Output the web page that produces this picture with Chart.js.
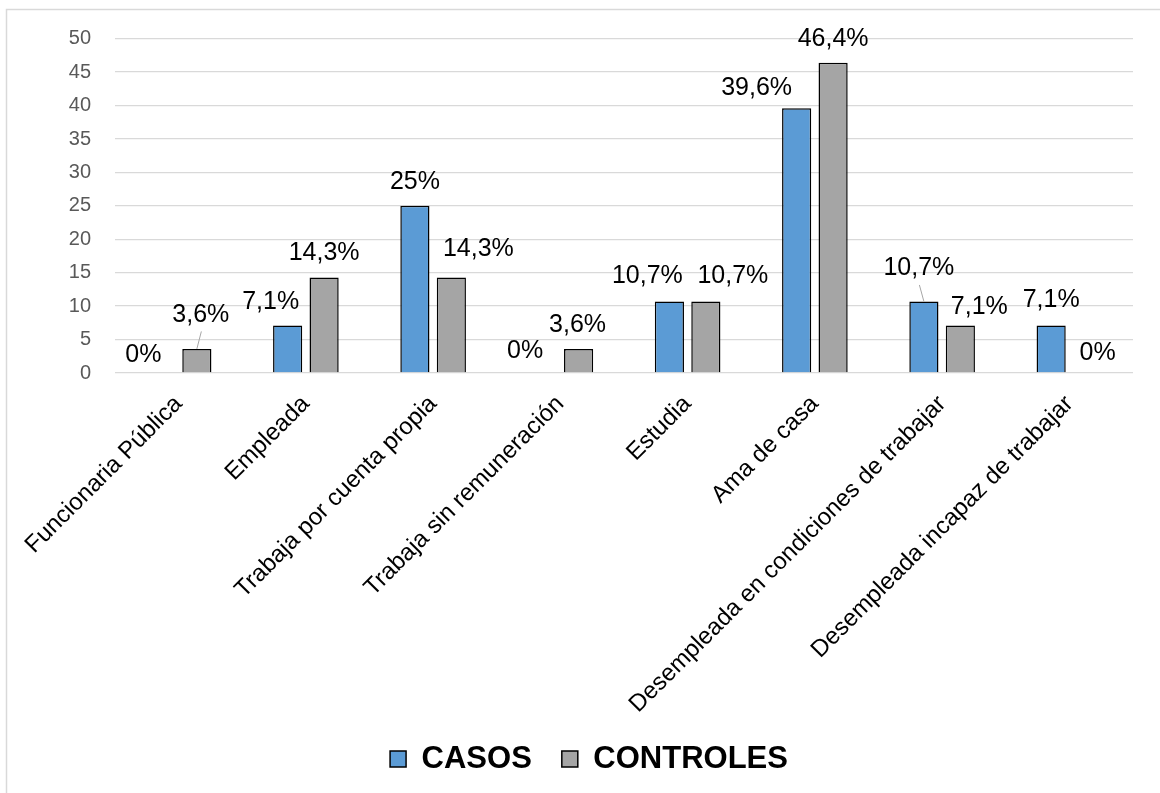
<!DOCTYPE html>
<html lang="es">
<head>
<meta charset="utf-8">
<title>Ocupación - casos y controles</title>
<script src="https://cdn.jsdelivr.net/npm/chart.js@4.4.1/dist/chart.umd.min.js"></script>
<style>
  html, body { margin: 0; padding: 0; background: #fff; }
  #contenedor { position: relative; width: 1160px; height: 793px; }
</style>
</head>
<body>
<div id="contenedor"><canvas id="grafico"></canvas></div>
<script>
// Ocupación (%) por grupo
const categorias = [
  'Funcionaria Pública',
  'Empleada',
  'Trabaja por cuenta propia',
  'Trabaja sin remuneración',
  'Estudia',
  'Ama de casa',
  'Desempleada en condiciones de trabajar',
  'Desempleada incapaz de trabajar'
];
const casos = [0, 7.1, 25, 0, 10.7, 39.6, 10.7, 7.1];
const controles = [3.6, 14.3, 14.3, 3.6, 10.7, 46.4, 7.1, 0];
const ticksY = [0, 5, 10, 15, 20, 25, 30, 35, 40, 45, 50];

// desplazamiento [dx, dy] de cada etiqueta respecto a su sitio por defecto
const ajusteCasos = [[-17, 6], [-17, 0], [0, 0], [-17, 2], [-22, -1], [-40, 4], [-5, -9], [0, -2]];
const ajusteControles = [[4, -10], [0, 0], [27, -4], [-1, 0], [27, -1], [0, 0], [19, 5], [10, 4]];
// etiquetas que llevan línea guía hasta la barra
const conGuia = [[6], [0]];

const FUENTE = '"Liberation Sans", Arial, sans-serif';
Chart.defaults.font.family = FUENTE;

const formato = v => String(v).replace('.', ',') + '%';

// marco gris alrededor del gráfico
const marco = {
  id: 'marco',
  beforeDraw(chart) {
    const ctx = chart.ctx;
    ctx.save();
    ctx.strokeStyle = '#d9d9d9';
    ctx.lineWidth = 1.5;
    ctx.strokeRect(6.5, 9.5, chart.width + 20, chart.height + 20);
    ctx.restore();
  }
};

// etiquetas de valor encima de las barras
const etiquetas = {
  id: 'etiquetas',
  afterDatasetsDraw(chart) {
    const ctx = chart.ctx;
    ctx.save();
    ctx.font = '25px ' + FUENTE;
    ctx.textAlign = 'center';
    ctx.textBaseline = 'alphabetic';
    chart.data.datasets.forEach((ds, i) => {
      const ajustes = i === 0 ? ajusteCasos : ajusteControles;
      chart.getDatasetMeta(i).data.forEach((bar, j) => {
        const [dx, dy] = ajustes[j];
        const x = bar.x + dx;
        const y = bar.y - 17 + dy;
        if (conGuia[i].includes(j)) {
          ctx.strokeStyle = '#a6a6a6';
          ctx.lineWidth = 1;
          ctx.beginPath();
          ctx.moveTo(x + 0.5, y + 9.5);
          ctx.lineTo(bar.x, bar.y);
          ctx.stroke();
        }
        ctx.fillStyle = '#000';
        ctx.fillText(formato(ds.data[j]), x, y);
      });
    });
    ctx.restore();
  }
};

new Chart(document.getElementById('grafico'), {
  type: 'bar',
  data: {
    labels: categorias,
    datasets: [
      {
        label: 'CASOS',
        data: casos,
        backgroundColor: '#5b9bd5',
        borderColor: '#000',
        borderWidth: 1.5
      },
      {
        label: 'CONTROLES',
        data: controles,
        backgroundColor: '#a5a5a5',
        borderColor: '#000',
        borderWidth: 1.5
      }
    ]
  },
  options: {
    responsive: true,
    maintainAspectRatio: false,
    animation: false,
    categoryPercentage: 0.573,
    barPercentage: 0.8,
    layout: { padding: { top: 38.7, left: 45, right: 27, bottom: 8.5 } },
    plugins: {
      legend: {
        position: 'bottom',
        labels: {
          color: '#000',
          font: { size: 31, weight: 'bold' },
          boxWidth: 16,
          boxHeight: 16,
          padding: 30
        }
      },
      tooltip: { enabled: false }
    },
    scales: {
      x: {
        grid: { display: false },
        border: { display: false },
        ticks: {
          color: '#000',
          font: { size: 24 },
          minRotation: 45,
          maxRotation: 45,
          autoSkip: false,
          padding: 9
        },
        afterFit(scale) { scale.height = 340.5; }
      },
      y: {
        min: 0,
        max: 50,
        afterBuildTicks(scale) { scale.ticks = ticksY.map(v => ({ value: v })); },
        grid: { color: '#d9d9d9', lineWidth: 1.3, drawTicks: false },
        border: { display: false },
        ticks: { color: '#595959', font: { size: 20 }, padding: 24 },
        afterFit(scale) { scale.width = 70; }
      }
    }
  },
  plugins: [marco, etiquetas]
});
</script>
</body>
</html>
